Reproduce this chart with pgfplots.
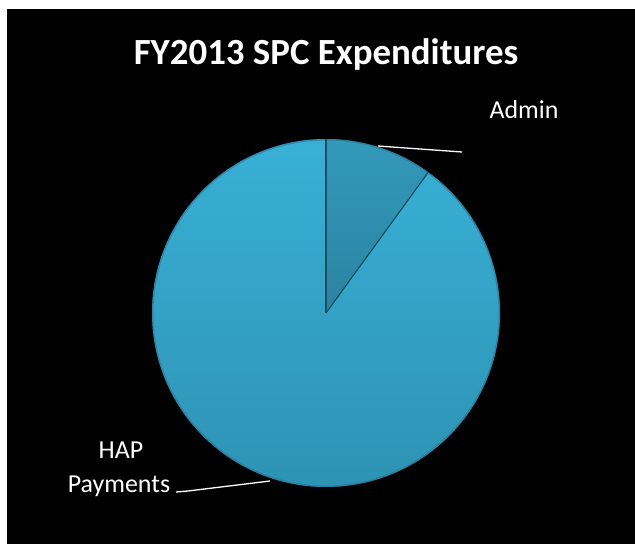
\documentclass[border=0pt]{standalone}
\usepackage{pgfplots}
\pgfplotsset{compat=1.18}
\usepackage{fontspec}
\setmainfont{Carlito}
\definecolor{hapTop}{HTML}{38B0D6}
\definecolor{hapBot}{HTML}{2D91B1}
\definecolor{admTop}{HTML}{3399BA}
\definecolor{admBot}{HTML}{2B83A1}
\definecolor{edge}{HTML}{1E4F60}
\definecolor{rim}{HTML}{25779A}
\begin{document}
\begin{tikzpicture}
% data (percent of expenditures)
\def\vAdmin{10}
\def\vHAP{90}
\pgfmathsetmacro{\aStart}{90}
\pgfmathsetmacro{\aMid}{90-3.6*\vAdmin}
\pgfmathsetmacro{\aEnd}{\aMid-3.6*\vHAP}
\def\cx{326}\def\cy{231}\def\r{174}
\begin{axis}[
  hide axis, scale only axis,
  width=635bp, height=544bp,
  xmin=0, xmax=635, ymin=0, ymax=544,
  clip=false,
]
\fill[white] (axis cs:0,0) rectangle (axis cs:635,544);
\fill[black] (axis cs:7,0) rectangle (axis cs:635,535);
% HAP slice
\fill[top color=hapTop, bottom color=hapBot]
  (axis cs:\cx,\cy) -- ++(\aMid:\r bp) arc[start angle=\aMid, end angle=\aEnd, radius=\r bp] -- cycle;
% Admin slice
\fill[top color=admTop, bottom color=admBot]
  (axis cs:\cx,\cy) -- ++(\aStart:\r bp) arc[start angle=\aStart, end angle=\aMid, radius=\r bp] -- cycle;
\draw[rim, opacity=0.6, line width=1.5bp] (axis cs:\cx,\cy) ++(0:\r bp-0.75bp) arc[start angle=0, end angle=360, radius=\r bp-0.75bp];
\draw[edge, line width=1.2bp] (axis cs:\cx,\cy) -- ++(\aStart:\r bp);
\draw[edge, line width=1.2bp] (axis cs:\cx,\cy) -- ++(\aMid:\r bp);
% labels
\node[white, anchor=base, font=\bfseries\fontsize{37}{42}\selectfont] at (axis cs:326,479) {FY2013 SPC Expenditures};
\node[white, anchor=base, font=\fontsize{26}{30}\selectfont] at (axis cs:524,425) {Admin};
\node[white, anchor=base, font=\fontsize{26}{30}\selectfont] at (axis cs:121,85) {HAP};
\node[white, anchor=base, font=\fontsize{26}{30}\selectfont] at (axis cs:119,51) {Payments};
\draw[white, line width=1.3bp] (axis cs:378,398) -- (axis cs:462,392);
\draw[white, line width=1.3bp] (axis cs:176,52) -- (axis cs:188,53) -- (axis cs:270,63);
\end{axis}
\end{tikzpicture}
\end{document}
